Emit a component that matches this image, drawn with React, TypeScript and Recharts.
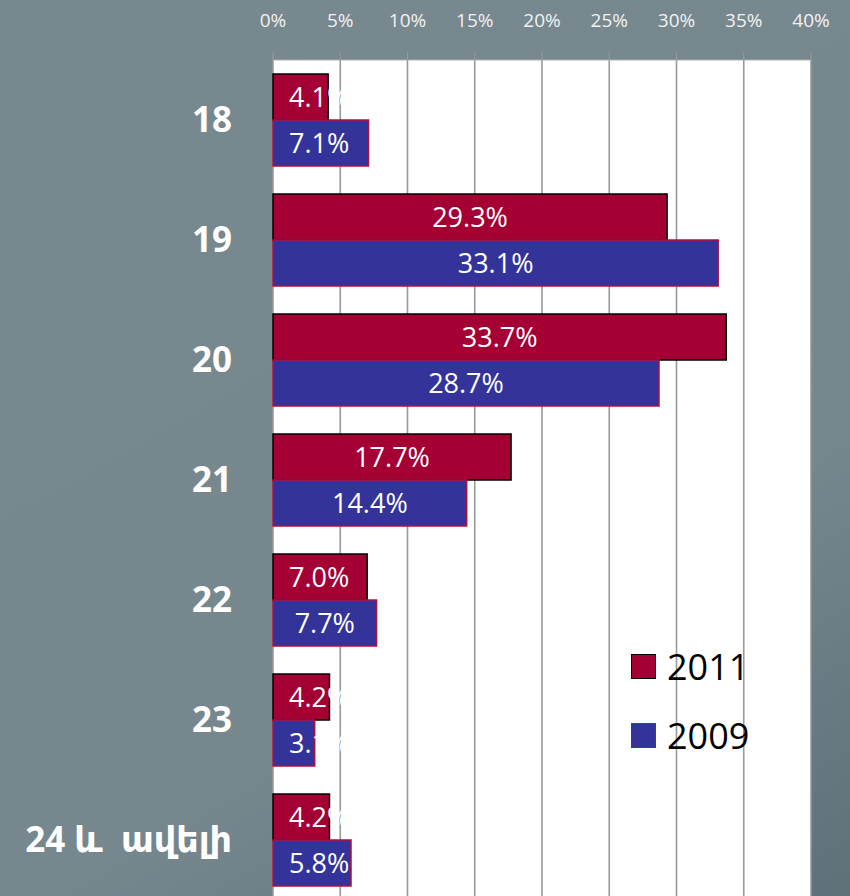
import React from 'react';
import { BarChart, Bar, XAxis, YAxis, CartesianGrid, LabelList } from 'recharts';

const ages = ['18', '19', '20', '21', '22', '23', '24 և  ավելի'];
const share2011 = [4.1, 29.3, 33.7, 17.7, 7.0, 4.2, 4.2];
const share2009 = [7.1, 33.1, 28.7, 14.4, 7.7, 3.1, 5.8];
const xTicks = [0, 5, 10, 15, 20, 25, 30, 35, 40];

const data = ages.map((age, i) => ({ age, y2011: share2011[i], y2009: share2009[i] }));

const FONT = '"Open Sans", "DejaVu Sans", sans-serif';

const TopTick = (props: any) => {
  const { x, payload } = props;
  return (
    <text x={x} y={27} textAnchor="middle" fill="#f2f2f2" fontSize={19} fontFamily={FONT}>
      {payload.value}%
    </text>
  );
};

const AgeTick = (props: any) => {
  const { y, payload } = props;
  return (
    <text x={232} y={y} dy={12} textAnchor="end" fill="#fff" fontSize={35} fontWeight="bold" fontFamily={FONT} style={{ whiteSpace: 'pre' }}>
      {payload.value}
    </text>
  );
};

const BarValue = (props: any) => {
  const { x, y, width, height, value } = props;
  const small = width < 100;
  return (
    <text
      x={small ? x + 16 : x + width / 2}
      y={y + height / 2}
      dy={10}
      textAnchor={small ? 'start' : 'middle'}
      fill="#fff"
      fontSize={27}
      fontFamily={FONT}
    >
      {Number(value).toFixed(1)}%
    </text>
  );
};

const legendItems = [
  { name: '2011', fill: '#a50034', stroke: '#000' },
  { name: '2009', fill: '#333399', stroke: '#b0103c' },
];

const LegendBox = () => (
  <div style={{ position: 'absolute', left: 631, top: 632 }}>
    {legendItems.map((it) => (
      <div key={it.name} style={{ display: 'flex', alignItems: 'center', height: 69 }}>
        <div style={{ width: 23, height: 23, background: it.fill, border: `1px solid ${it.stroke}`, marginRight: 11 }} />
        <span style={{ fontFamily: FONT, fontSize: 36, color: '#000' }}>{it.name}</span>
      </div>
    ))}
  </div>
);

export default function App() {
  return (
    <div
      style={{
        position: 'fixed',
        top: 0,
        left: 0,
        width: 850,
        height: 896,
        overflow: 'hidden',
        background: 'linear-gradient(150deg, #77888f 0%, #76878e 66%, #5e7178 100%)',
      }}
    >
      <BarChart
        width={850}
        height={900}
        data={data}
        layout="vertical"
        margin={{ top: 0, right: 39, bottom: 0, left: 0 }}
        barCategoryGap={14}
        barGap={0}
      >
        <CartesianGrid horizontal={false} stroke="#999" strokeWidth={1.6} fill="#fff" />
        <XAxis
          type="number"
          orientation="top"
          domain={[0, 40]}
          ticks={xTicks}
          height={60}
          tickSize={8}
          tickLine={{ stroke: '#999' }}
          axisLine={{ stroke: '#b0b0b0' }}
          tick={<TopTick />}
          interval={0}
        />
        <YAxis type="category" dataKey="age" width={273} axisLine={false} tickLine={false} tick={<AgeTick />} />
        <Bar dataKey="y2011" name="2011" fill="#a50034" stroke="#000" strokeWidth={1.5} isAnimationActive={false}>
          <LabelList dataKey="y2011" content={<BarValue />} />
        </Bar>
        <Bar dataKey="y2009" name="2009" fill="#333399" stroke="#b0103c" strokeWidth={1.5} isAnimationActive={false}>
          <LabelList dataKey="y2009" content={<BarValue />} />
        </Bar>
      </BarChart>
      <LegendBox />
    </div>
  );
}
